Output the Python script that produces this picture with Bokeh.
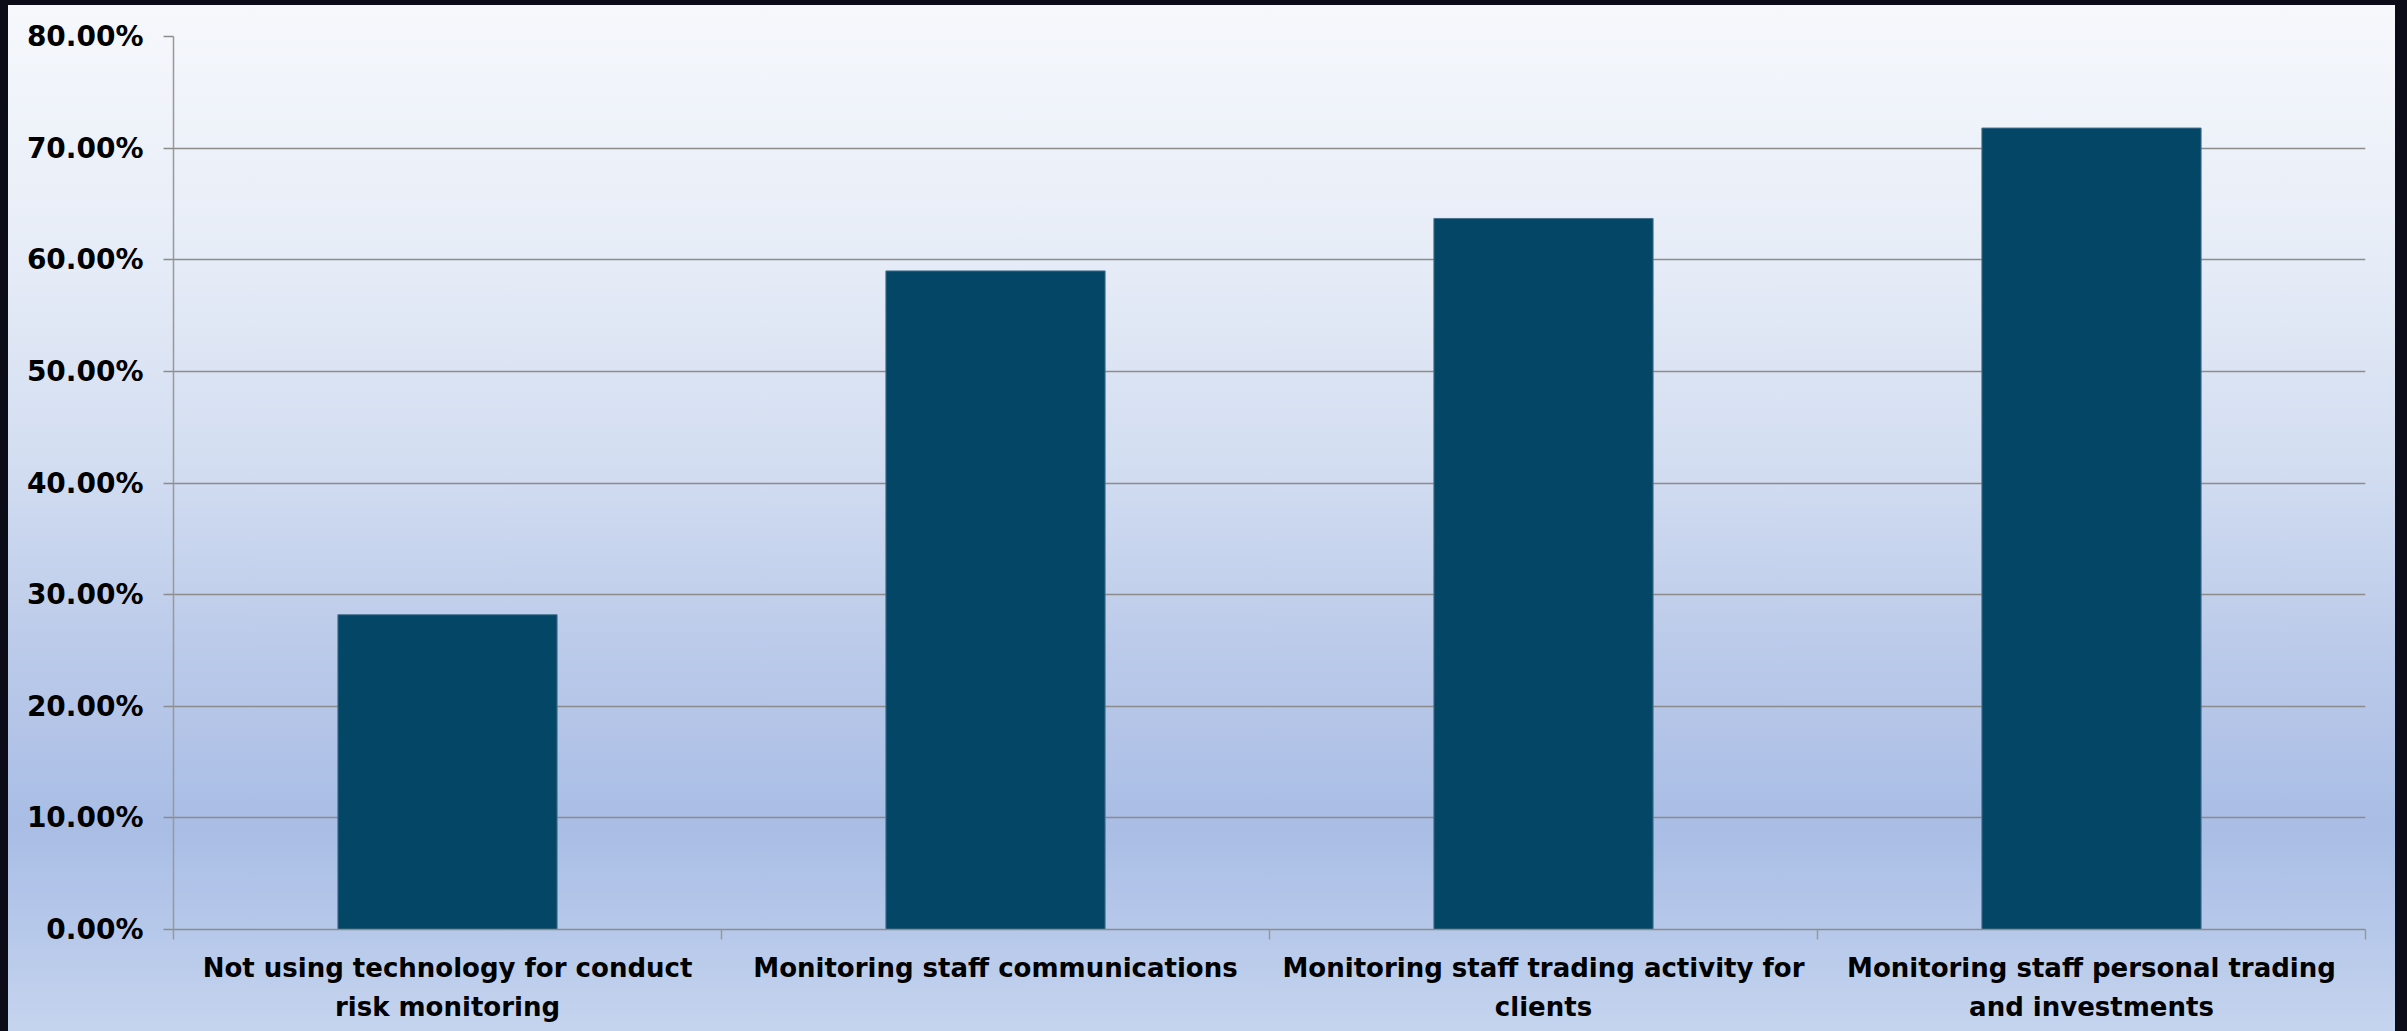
from bokeh.plotting import figure
from bokeh.models import (Range1d, LinearAxis, FixedTicker, NumeralTickFormatter,
                          ColumnDataSource)
from bokeh.embed import file_html
from bokeh.resources import INLINE

# ---- data ----
categories = [
    "Not using technology for conduct risk monitoring",
    "Monitoring staff communications",
    "Monitoring staff trading activity for clients",
    "Monitoring staff personal trading and investments",
]
tick_labels = [
    "Not using technology for conduct\nrisk monitoring",
    "Monitoring staff communications",
    "Monitoring staff trading activity for\nclients",
    "Monitoring staff personal trading\nand investments",
]
shares = [0.282, 0.590, 0.637, 0.718]
y_ticks = [0.0, 0.1, 0.2, 0.3, 0.4, 0.5, 0.6, 0.7, 0.8]

n = len(categories)
x_centers = [i + 0.5 for i in range(n)]      # category slot centres
x_bounds = [float(i) for i in range(n + 1)]  # category slot boundaries

FONT = "DejaVu Sans"
GRID = "#8c8c8c"
AXIS = "#999999"

source = ColumnDataSource(data=dict(x=x_centers, category=categories, share=shares))

p = figure(
    x_range=Range1d(0, n),
    y_range=Range1d(0, 0.8),
    width=2387, height=1026,
    output_backend="svg", toolbar_location=None,
    x_axis_location=None, y_axis_location=None,
    min_border_left=165, min_border_right=30,
    min_border_top=31, min_border_bottom=102,
)
p.background_fill_color = None
p.border_fill_color = None
p.outline_line_color = None
p.styles = {
    "background": "linear-gradient(to bottom, #f6f8fc 0%, #e6ecf7 25%, #d2ddf1 45%, "
                  "#bccbea 62%, #a9bde5 80%, #b6c8ea 90%, #c5d4ee 100%)"
}

# y axis
yaxis = LinearAxis(
    ticker=FixedTicker(ticks=y_ticks),
    formatter=NumeralTickFormatter(format="0.00%"),
    axis_line_color=AXIS, axis_line_width=1.5,
    major_tick_line_color=GRID, major_tick_line_width=1.5,
    major_tick_out=10, major_tick_in=0,
    minor_tick_line_color=None,
    major_label_text_font=FONT, major_label_text_font_style="bold",
    major_label_text_font_size="28px", major_label_text_color="#000000",
    major_label_standoff=20,
)
p.add_layout(yaxis, "left")

# x axis line and boundary ticks
bound_axis = LinearAxis(
    ticker=FixedTicker(ticks=x_bounds),
    axis_line_color=GRID, axis_line_width=1.5,
    major_tick_line_color=AXIS, major_tick_line_width=1.5,
    major_tick_out=10, major_tick_in=0,
    minor_tick_line_color=None,
    major_label_text_font_size="0px", major_label_text_alpha=0,
    major_label_standoff=0,
)
p.add_layout(bound_axis, "below")

# category labels
cat_axis = LinearAxis(
    ticker=FixedTicker(ticks=x_centers),
    axis_line_color=None, major_tick_line_color=None, minor_tick_line_color=None,
    major_tick_out=0, major_tick_in=0,
    major_label_text_font=FONT, major_label_text_font_style="bold",
    major_label_text_font_size="26px", major_label_text_color="#000000",
    major_label_text_line_height=1.3,
    major_label_standoff=13,
    major_label_overrides=dict(zip(x_centers, tick_labels)),
)
p.add_layout(cat_axis, "below")

p.ygrid.ticker = FixedTicker(ticks=y_ticks)
p.ygrid.grid_line_color = GRID
p.ygrid.grid_line_width = 1.5
p.xgrid.grid_line_color = None

p.vbar(x="x", top="share", width=0.4, source=source,
       fill_color="#034665", line_color="#4a7392", line_width=1)

template = """{% block postamble %}<style>
html, body { background: #0c0b18; }
body { margin: 0; padding: 5px 0 0 8px; box-sizing: border-box; overflow: hidden; }
</style>{% endblock %}"""

open("out.html", "w").write(file_html(p, INLINE, template=template))
